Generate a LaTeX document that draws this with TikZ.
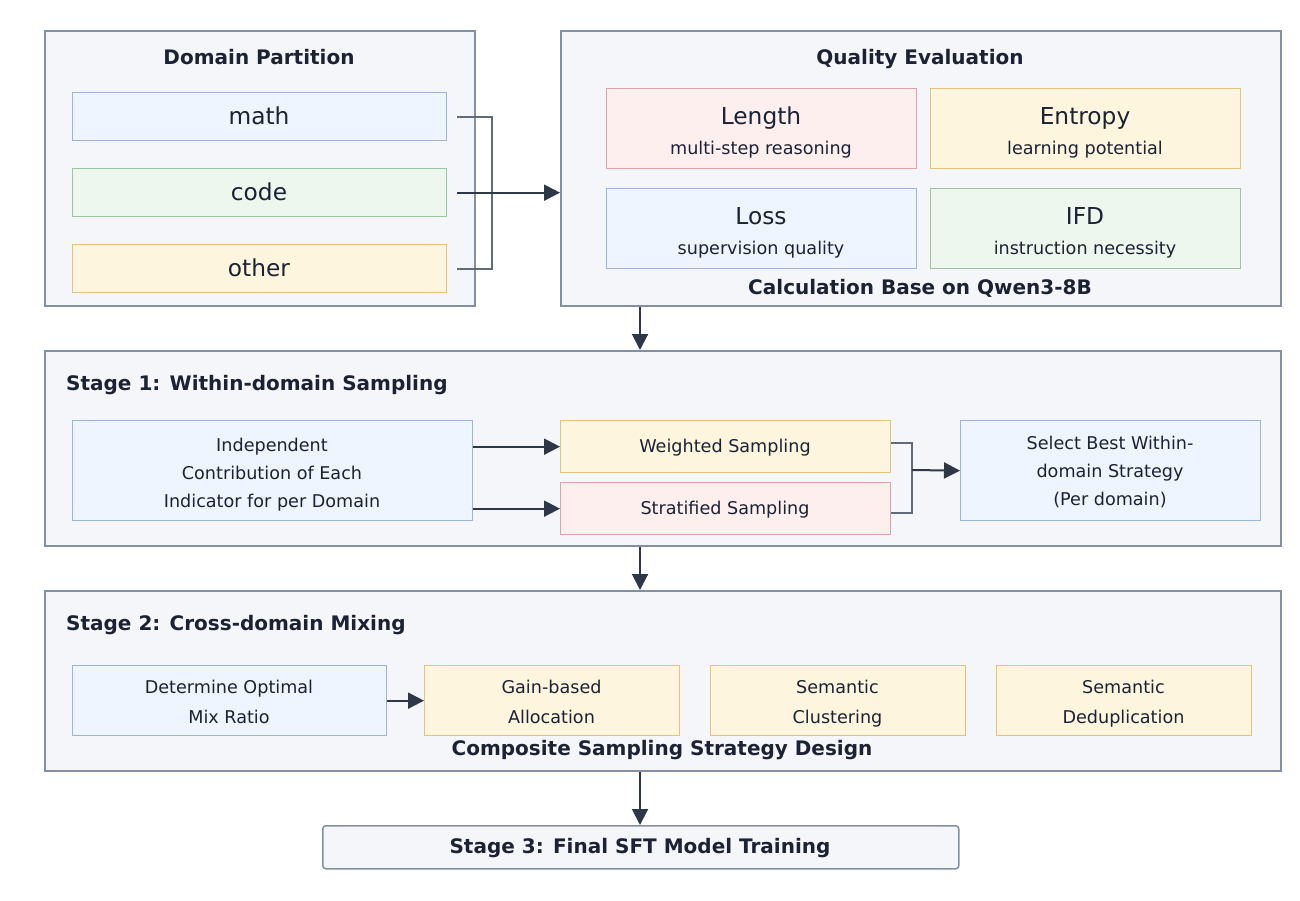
\documentclass[tikz,border=0pt]{standalone}
\usepackage{fontspec}
\setmainfont{DejaVu Sans}
\usetikzlibrary{arrows.meta}
\definecolor{outerfill}{HTML}{F5F6FA}
\definecolor{outerdraw}{HTML}{8390A2}
\definecolor{bluefill}{HTML}{EEF5FE}
\definecolor{bluedraw}{HTML}{9AB5D5}
\definecolor{greenfill}{HTML}{EDF7EE}
\definecolor{greendraw}{HTML}{9CC4A0}
\definecolor{yellowfill}{HTML}{FEF5DF}
\definecolor{yellowdraw}{HTML}{E2C27C}
\definecolor{pinkfill}{HTML}{FEEFEF}
\definecolor{pinkdraw}{HTML}{E0A2A5}
\definecolor{txt}{HTML}{1B2233}
\definecolor{arrowcol}{HTML}{2D3748}
\definecolor{bracketcol}{HTML}{5F6B7A}
\tikzset{
  outerbox/.style={draw=outerdraw, fill=outerfill, line width=1.8pt, inner sep=0pt, anchor=north west},
  inbox/.style={line width=1.3pt, inner sep=0pt, anchor=north west},
  bluebox/.style={inbox, draw=bluedraw, fill=bluefill},
  greenbox/.style={inbox, draw=greendraw, fill=greenfill},
  yellowbox/.style={inbox, draw=yellowdraw, fill=yellowfill},
  pinkbox/.style={inbox, draw=pinkdraw, fill=pinkfill},
  ttl/.style={text=txt, inner sep=0pt, font=\fontsize{20}{24}\selectfont\bfseries},
  big/.style={text=txt, inner sep=0pt, anchor=base, font=\fontsize{23.3}{28}\selectfont},
  small/.style={text=txt, inner sep=0pt, anchor=base, font=\fontsize{17.6}{28}\selectfont},
  arr/.style={draw=arrowcol, line width=2pt, -{Triangle[length=16pt,width=16pt]}},
  bracket/.style={draw=bracketcol, line width=2pt},
}
\begin{document}
\begin{tikzpicture}[x=1pt,y=-1pt]
\useasboundingbox (0,0) rectangle (1300,900);

% Domain Partition
\node[outerbox, minimum width=430pt, minimum height=275pt] (dp) at (44,30) {};
\node[ttl, anchor=base] (dpt) at (259,64.4) {Domain Partition};
\node[bluebox, minimum width=374pt, minimum height=48pt] (math) at (72,92) {};
\node[big] (matht) at (259,124.5) {math};
\node[greenbox, minimum width=374pt, minimum height=48pt] (code) at (72,168) {};
\node[big] (codet) at (259,200.5) {code};
\node[yellowbox, minimum width=374pt, minimum height=48pt] (other) at (72,244) {};
\node[big] (othert) at (259,276.5) {other};

% Quality Evaluation
\node[outerbox, minimum width=720pt, minimum height=275pt] (qe) at (560,30) {};
\node[ttl, anchor=base] (qet) at (920,64.4) {Quality Evaluation};
\node[pinkbox, minimum width=310pt, minimum height=80pt] (len) at (606,88) {};
\node[big] (lent) at (761,124.5) {Length};
\node[small] (lens) at (761,154.6) {multi-step reasoning};
\node[yellowbox, minimum width=310pt, minimum height=80pt] (ent) at (930,88) {};
\node[big] (entt) at (1085,124.5) {Entropy};
\node[small] (ents) at (1085,154.6) {learning potential};
\node[bluebox, minimum width=310pt, minimum height=80pt] (loss) at (606,188) {};
\node[big] (losst) at (761,224.5) {Loss};
\node[small] (losss) at (761,254.6) {supervision quality};
\node[greenbox, minimum width=310pt, minimum height=80pt] (ifd) at (930,188) {};
\node[big] (ifdt) at (1085,224.5) {IFD};
\node[small] (ifds) at (1085,254.6) {instruction necessity};
\node[ttl, anchor=base] (calc) at (920,294.4) {Calculation Base on Qwen3-8B};

% Stage 1
\node[outerbox, minimum width=1236pt, minimum height=195pt] (s1) at (44,350) {};
\node[ttl, anchor=base west] (s1t) at (66,390.4) {Stage 1: Within-domain Sampling};
\node[bluebox, minimum width=400pt, minimum height=100pt] (ind) at (72,420) {};
\node[small] (ind1) at (272,451.5) {Independent};
\node[small] (ind2) at (272,479.5) {Contribution of Each};
\node[small] (ind3) at (272,507.5) {Indicator for per Domain};
\node[yellowbox, minimum width=330pt, minimum height=52pt] (ws) at (560,420) {};
\node[small] (wst) at (725,452.5) {Weighted Sampling};
\node[pinkbox, minimum width=330pt, minimum height=52pt] (ss) at (560,482) {};
\node[small] (sst) at (725,514.5) {Stratified Sampling};
\node[bluebox, minimum width=300pt, minimum height=100pt] (sel) at (960,420) {};
\node[small] (sel1) at (1110,449.5) {Select Best Within-};
\node[small] (sel2) at (1110,477.5) {domain Strategy};
\node[small] (sel3) at (1110,505.5) {(Per domain)};

% Stage 2
\node[outerbox, minimum width=1236pt, minimum height=180pt] (s2) at (44,590) {};
\node[ttl, anchor=base west] (s2t) at (66,630.4) {Stage 2: Cross-domain Mixing};
\node[bluebox, minimum width=314pt, minimum height=70pt] (det) at (72,665) {};
\node[small] (det1) at (229,693.5) {Determine Optimal};
\node[small] (det2) at (229,723.5) {Mix Ratio};
\node[yellowbox, minimum width=255pt, minimum height=70pt] (gain) at (424,665) {};
\node[small] (gain1) at (551.5,693.5) {Gain-based};
\node[small] (gain2) at (551.5,723.5) {Allocation};
\node[yellowbox, minimum width=255pt, minimum height=70pt] (clu) at (710,665) {};
\node[small] (clu1) at (837.5,693.5) {Semantic};
\node[small] (clu2) at (837.5,723.5) {Clustering};
\node[yellowbox, minimum width=255pt, minimum height=70pt] (ded) at (996,665) {};
\node[small] (ded1) at (1123.5,693.5) {Semantic};
\node[small] (ded2) at (1123.5,723.5) {Deduplication};
\node[ttl, anchor=base] (comp) at (662,755.4) {Composite Sampling Strategy Design};

% Stage 3
\node[draw=outerdraw, fill=outerfill, line width=1.5pt, rounded corners=3pt, minimum width=636pt, minimum height=43pt, inner sep=0pt, anchor=north west] (s3) at (322,825) {};
\node[ttl, anchor=base] (s3t) at (640,853.4) {Stage 3: Final SFT Model Training};

% connectors
\coordinate (cx) at (640,0);
\coordinate (dpj) at (492,192);
\draw[bracket] ([xshift=10pt]math.east) -| (dpj);
\draw[bracket] ([xshift=10pt]other.east) -| (dpj);
\draw[arr] ([xshift=10pt]code.east) -- (code.east -| qe.west);
\draw[arr] (qe.south -| cx) -- (s1.north -| cx);
\draw[arr] (ind.east |- ws.west) -- (ws.west);
\draw[arr] (ind.east |- ss.west) -- (ss.west);
\coordinate (sj) at (912,470);
\draw[bracket] ([yshift=4pt]ws.east) -| (sj);
\draw[bracket] ([yshift=-4pt]ss.east) -| (sj);
\draw[arr] (sj) -- (sel.west);
\draw[arr] (s1.south -| cx) -- (s2.north -| cx);
\draw[arr] (det.east) -- (gain.west);
\draw[arr] (s2.south -| cx) -- (s3.north -| cx);
\end{tikzpicture}
\end{document}
